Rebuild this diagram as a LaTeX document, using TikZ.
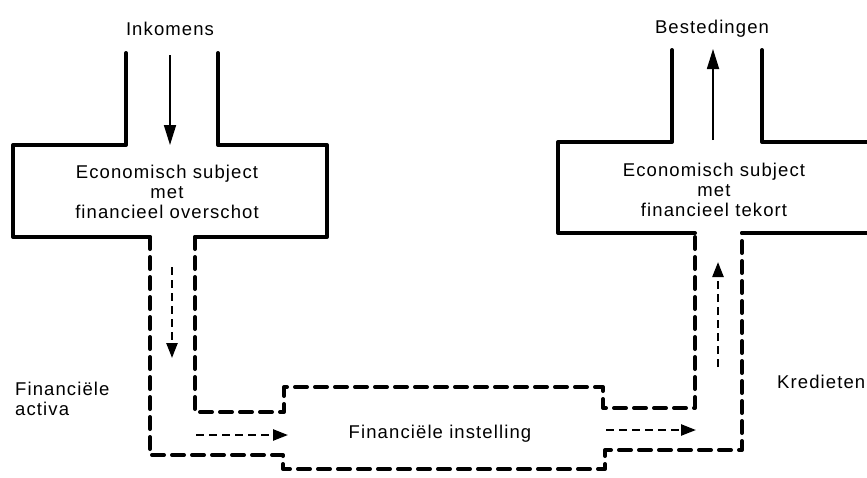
\documentclass[tikz,border=0pt]{standalone}
\usepackage{fontspec}
\setmainfont{Liberation Sans}
\newfontfamily\lblfont[LetterSpace=6]{Liberation Sans}
\usetikzlibrary{arrows.meta}
\begin{document}
\begin{tikzpicture}[x=1pt,y=-1pt,
  wall/.style={line width=4pt, line join=round, line cap=round},
  dwall/.style={wall, dash pattern=on 12pt off 8pt},
  flow/.style={line width=1.7pt, -{Triangle[length=20pt,width=12pt]}},
  dflow/.style={line width=2.4pt, dash pattern=on 8pt off 5pt, -{Triangle[length=15pt,width=11pt]}},
  lbl/.style={font=\lblfont\fontsize{18.5}{20}\selectfont, inner sep=0pt}]
\useasboundingbox (0,0) rectangle (867,477);

% left economic subject (surplus)
\draw[wall] (126,53) -- (126,145) -- (13,145) -- (13,237) -- (150,237);
\draw[wall] (218,53) -- (218,145) -- (327,145) -- (327,237) -- (195,237);

% right economic subject (deficit), cut off at the right edge
\draw[wall] (672,50) -- (672,142) -- (558,142) -- (558,233) -- (695,233);
\draw[wall] (762,50) -- (762,142) -- (870,142);
\draw[wall] (870,233) -- (742,233);

% dashed channel through the financial institution
\draw[dwall] (150,237) -- (150,455) -- (283,455) -- (283,469) -- (605,469) -- (605,450) -- (742,450) -- (742,233);
\draw[dwall] (195,237) -- (195,412) -- (284,412) -- (284,387) -- (603,387) -- (603,408) -- (695,408) -- (695,233);

% arrows
\coordinate (inS) at (170,55);  \coordinate (inE) at (170,145);
\coordinate (outS) at (713,140); \coordinate (outE) at (713,49);
\coordinate (fdS) at (172,267); \coordinate (fdE) at (172,358);
\coordinate (fuS) at (718,367); \coordinate (fuE) at (718,262);
\coordinate (h1S) at (196,435); \coordinate (h1E) at (288,435);
\coordinate (h2S) at (606,430); \coordinate (h2E) at (696,430);
\draw[flow] (inS) -- (inE);
\draw[flow] (outS) -- (outE);
\draw[dflow] (fdS) -- (fdE);
\draw[dflow] (fuS) -- (fuE);
\draw[dflow] (h1S) -- (h1E);
\draw[dflow] (h2S) -- (h2E);

% labels
\node[lbl, anchor=base] (ink) at (170,35) {Inkomens};
\node[lbl, anchor=base] (best) at (712,33) {Bestedingen};
\node[lbl, align=center, anchor=north] (esl) at (167,164.5) {Economisch subject\\met\\financieel overschot};
\node[lbl, align=center, anchor=north] (esr) at (714,162.5) {Economisch subject\\met\\financieel tekort};
\node[lbl, anchor=base] (fi) at (440,438) {Financiële instelling};
\node[lbl, align=left, anchor=north west] (fa) at (15,381.5) {Financiële\\activa};
\node[lbl, anchor=base west] (kr) at (777,388) {Kredieten};
\end{tikzpicture}
\end{document}
